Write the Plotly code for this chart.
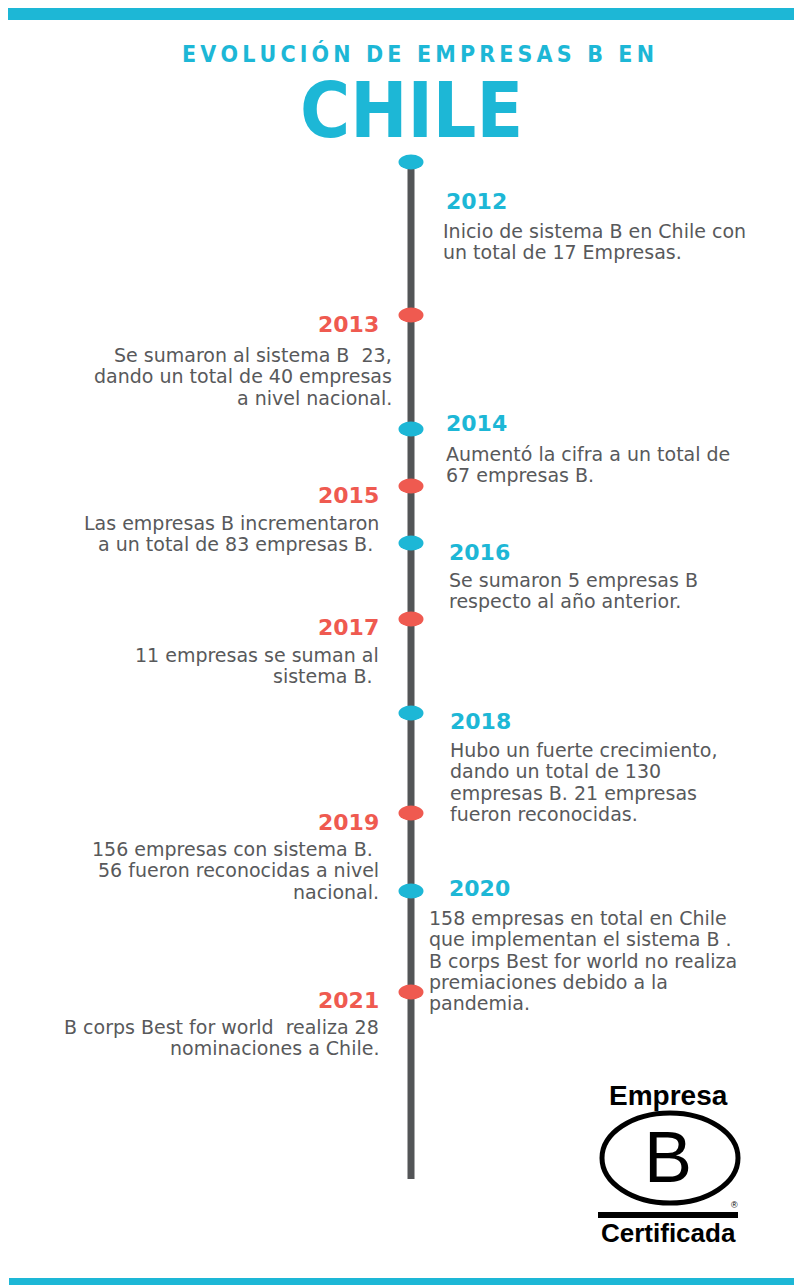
import plotly.graph_objects as go

# ---------------- data ----------------
YEARS = ["2012", "2013", "2014", "2015", "2016", "2017", "2018", "2019", "2020", "2021"]
SIDES = ["right", "left", "right", "left", "right", "left", "right", "left", "right", "left"]
DESCRIPTIONS = [
    ["Inicio de sistema B en Chile con", "un total de 17 Empresas."],
    ["Se sumaron al sistema B  23,", "dando un total de 40 empresas", "a nivel nacional."],
    ["Aumentó la cifra a un total de", "67 empresas B."],
    ["Las empresas B incrementaron", "a un total de 83 empresas B. "],
    ["Se sumaron 5 empresas B", "respecto al año anterior."],
    ["11 empresas se suman al", "sistema B. "],
    ["Hubo un fuerte crecimiento,", "dando un total de 130", "empresas B. 21 empresas", "fueron reconocidas."],
    ["156 empresas con sistema B. ", "56 fueron reconocidas a nivel", "nacional."],
    ["158 empresas en total en Chile", "que implementan el sistema B .",
     "B corps Best for world no realiza", "premiaciones debido a la", "pandemia."],
    ["B corps Best for world  realiza 28", "nominaciones a Chile."],
]
TITLE_TOP = "EVOLUCIÓN DE EMPRESAS B EN"
TITLE_MAIN = "CHILE"
LOGO_TOP = "Empresa"
LOGO_LETTER = "B"
LOGO_BOTTOM = "Certificada"

# ---------------- layout (pixel positions of the infographic) ----------------
PAGE_W, PAGE_H = 802, 1285
OFF = 8  # default page margin around the figure
W, H = PAGE_W - OFF, PAGE_H - OFF
AXIS_X = 411
LINE_TOP, LINE_BOTTOM = 162, 1179
DOT_Y = [162, 315, 429, 486, 543, 619, 713, 813, 891, 992]
YEAR_Y = [201, 324, 423, 495, 552, 627, 721, 822, 888, 1000]
YEAR_X = [445, 380, 445, 380, 448, 380, 449, 380, 448, 380]
TEXT_X = [442, 393, 445, 380, 448, 380, 449, 380, 428, 380]
TEXT_Y0 = [231, 355, 454, 523, 580, 655, 750, 849, 918, 1027]
LINE_STEP = 21.3
DOT_RX, DOT_RY = 12.5, 7.5

CYAN = "#1DB7D6"
RED = "#EF5A50"
GREY_LINE = "#535557"
GREY_TEXT = "#58595B"
BODY_FONT = "DejaVu Sans"
TITLE_FONT = "DejaVu Sans Condensed, sans-serif"
LOGO_FONT = "Liberation Sans, Arial, sans-serif"

fig = go.Figure()
fig.add_trace(go.Scatter(x=[OFF, PAGE_W], y=[OFF, PAGE_H], mode="markers",
                         marker=dict(opacity=0), hoverinfo="skip", showlegend=False))

shapes = []
annotations = []

# top / bottom bars
shapes.append(dict(type="rect", x0=8, x1=795, y0=3, y1=20, fillcolor=CYAN, line_width=0, layer="below"))
shapes.append(dict(type="rect", x0=9, x1=802, y0=1278, y1=1285, fillcolor=CYAN, line_width=0, layer="below"))

# timeline axis
shapes.append(dict(type="rect", x0=AXIS_X - 3.5, x1=AXIS_X + 3.5, y0=LINE_TOP, y1=LINE_BOTTOM,
                   fillcolor=GREY_LINE, line_width=0, layer="below"))

# title
TS = "\u2009"
spaced = (TS + " " + TS).join(TS.join(list(w)) for w in TITLE_TOP.split(" "))
annotations.append(dict(x=418, y=53, text="<b>" + spaced + "</b>", showarrow=False,
                        xanchor="center", yanchor="middle", borderpad=0,
                        font=dict(family=TITLE_FONT, size=23, color=CYAN)))
annotations.append(dict(x=411, y=110, text="<b>" + TITLE_MAIN + "</b>", showarrow=False,
                        xanchor="center", yanchor="middle", borderpad=0,
                        font=dict(family=TITLE_FONT, size=76, color=CYAN)))

# events
for i, yr in enumerate(YEARS):
    color = CYAN if SIDES[i] == "right" else RED
    shapes.append(dict(type="circle", x0=AXIS_X - DOT_RX, x1=AXIS_X + DOT_RX,
                       y0=DOT_Y[i] - DOT_RY, y1=DOT_Y[i] + DOT_RY,
                       fillcolor=color, line_width=0, layer="above"))
    anchor = "left" if SIDES[i] == "right" else "right"
    annotations.append(dict(x=YEAR_X[i], y=YEAR_Y[i], text="<b>" + yr + "</b>", showarrow=False,
                            xanchor=anchor, yanchor="middle", borderpad=0,
                            font=dict(family=BODY_FONT, size=22, color=color)))
    for j, line in enumerate(DESCRIPTIONS[i]):
        annotations.append(dict(x=TEXT_X[i], y=TEXT_Y0[i] + j * LINE_STEP, text=line,
                                showarrow=False, xanchor=anchor, yanchor="middle", borderpad=0,
                                font=dict(family=BODY_FONT, size=19, color=GREY_TEXT)))

# logo
annotations.append(dict(x=668, y=1095, text="<b>" + LOGO_TOP + "</b>", showarrow=False,
                        xanchor="center", yanchor="middle",
                        font=dict(family=LOGO_FONT, size=28, color="#000000")))
shapes.append(dict(type="circle", x0=602, x1=738, y0=1113, y1=1203,
                   line=dict(color="#000000", width=5), fillcolor="rgba(0,0,0,0)"))
annotations.append(dict(x=668, y=1157, text=LOGO_LETTER, showarrow=False,
                        xanchor="center", yanchor="middle",
                        font=dict(family=LOGO_FONT, size=72, color="#000000")))
shapes.append(dict(type="rect", x0=598, x1=738, y0=1212, y1=1218, fillcolor="#000000", line_width=0))
annotations.append(dict(x=734, y=1205, text="®", showarrow=False, xanchor="center", yanchor="middle",
                        font=dict(family=LOGO_FONT, size=9, color="#000000")))
annotations.append(dict(x=668, y=1233, text="<b>" + LOGO_BOTTOM + "</b>", showarrow=False,
                        xanchor="center", yanchor="middle",
                        font=dict(family=LOGO_FONT, size=26, color="#000000")))

fig.update_layout(
    width=W, height=H,
    margin=dict(l=0, r=0, t=0, b=0),
    paper_bgcolor="white", plot_bgcolor="white",
    xaxis=dict(range=[OFF, PAGE_W], visible=False, fixedrange=True),
    yaxis=dict(range=[PAGE_H, OFF], visible=False, fixedrange=True),
    shapes=shapes, annotations=annotations,
    showlegend=False,
)

fig.write_html("out.html")
